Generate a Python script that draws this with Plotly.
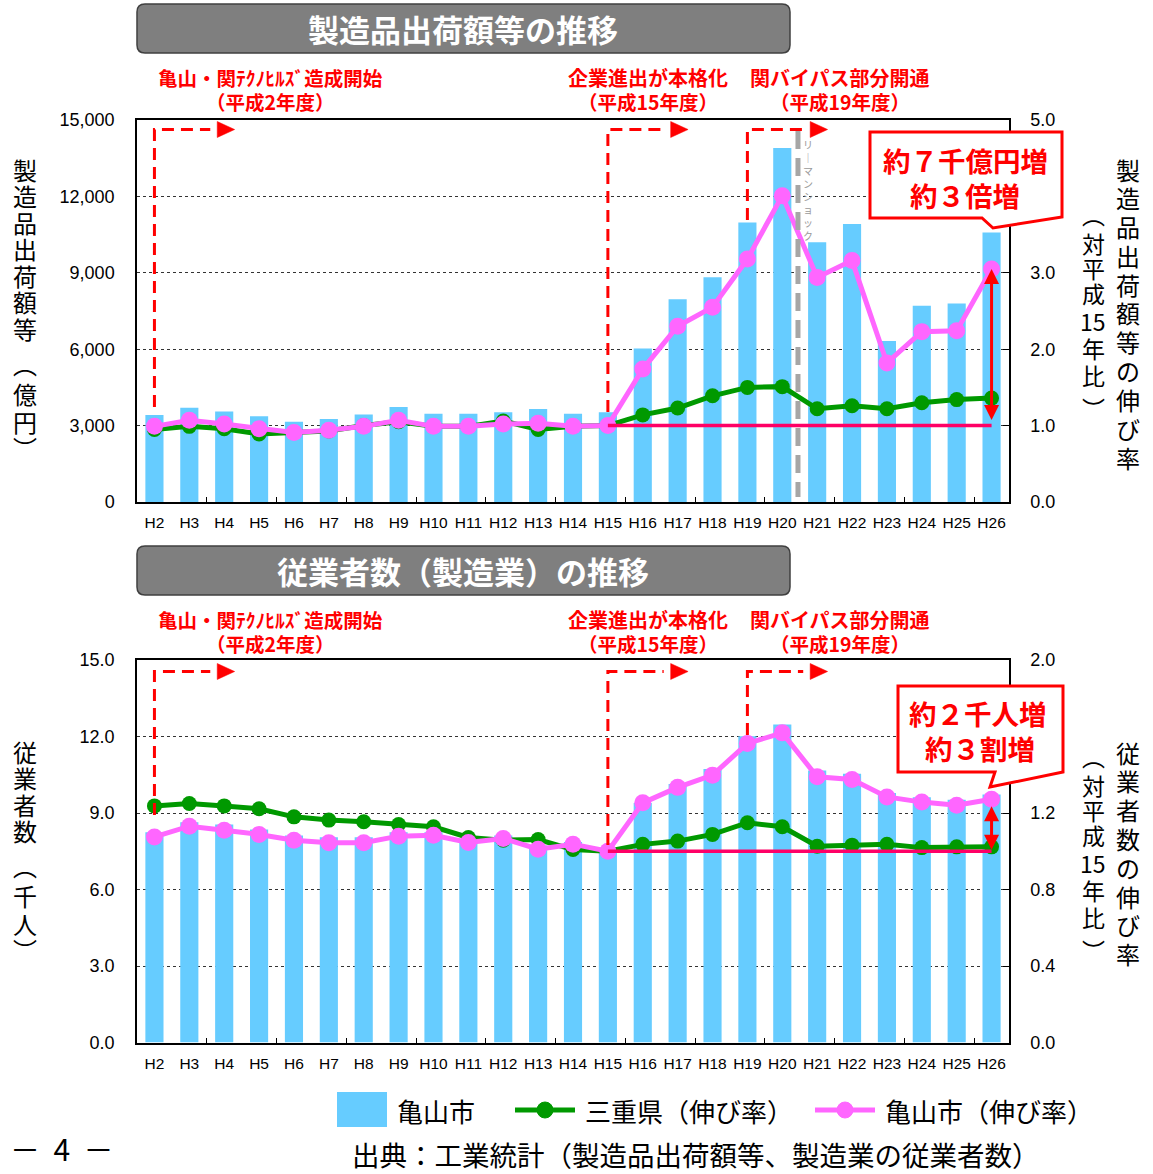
import plotly.graph_objects as go

W, H = 1153, 1174
JP = "Noto Sans CJK JP"
NUM = "Liberation Sans"

# ---------------- data ----------------
years = ["H2", "H3", "H4", "H5", "H6", "H7", "H8", "H9", "H10", "H11", "H12", "H13", "H14",
         "H15", "H16", "H17", "H18", "H19", "H20", "H21", "H22", "H23", "H24", "H25", "H26"]

# 製造品出荷額等（億円）亀山市
ship_kameyama = [3420, 3700, 3550, 3370, 3150, 3260, 3440, 3730, 3470, 3470, 3520, 3650, 3470,
                 3520, 6030, 7960, 8830, 10980, 13900, 10200, 10920, 6320, 7710, 7790, 10580]
# 伸び率（対平成15年比）
ship_mie_ratio = [0.95, 0.99, 0.96, 0.89, 0.91, 0.93, 1.00, 1.05, 0.99, 0.99, 1.06, 0.95, 0.99,
                  1.00, 1.14, 1.23, 1.39, 1.50, 1.51, 1.22, 1.26, 1.22, 1.30, 1.34, 1.36]
ship_kameyama_ratio = [0.99, 1.07, 1.02, 0.96, 0.91, 0.94, 0.99, 1.07, 0.99, 0.99, 1.02, 1.03, 0.99,
                       1.00, 1.74, 2.30, 2.55, 3.18, 4.01, 2.94, 3.16, 1.82, 2.23, 2.24, 3.05]

# 従業者数（千人）亀山市
emp_kameyama = [8.25, 8.64, 8.55, 8.35, 8.12, 8.05, 8.05, 8.25, 8.25, 7.99, 8.12, 7.73, 7.86,
                7.60, 9.39, 10.14, 10.73, 12.01, 12.47, 10.67, 10.54, 9.78, 9.62, 9.52, 9.73]
emp_mie_ratio = [1.237, 1.250, 1.237, 1.222, 1.180, 1.163, 1.154, 1.140, 1.128, 1.072, 1.058, 1.061, 1.009,
                 1.000, 1.036, 1.053, 1.088, 1.149, 1.128, 1.026, 1.032, 1.036, 1.019, 1.023, 1.023]
emp_kameyama_ratio = [1.075, 1.131, 1.110, 1.088, 1.058, 1.044, 1.044, 1.079, 1.084, 1.046, 1.067, 1.011, 1.037,
                      1.000, 1.253, 1.334, 1.398, 1.564, 1.619, 1.389, 1.375, 1.284, 1.257, 1.241, 1.272]

ship_ticks = [0, 3000, 6000, 9000, 12000, 15000]
ship_ratio_ticks = [0, 1, 2, 3, 5]
emp_ticks = [0, 3, 6, 9, 12, 15]
emp_ratio_ticks = [0, 0.4, 0.8, 1.2, 2.0]

idx = list(range(len(years)))
BASE = years.index("H15")
LAST = len(years) - 1

BLUE = "#66CCFF"
GREEN = "#009900"
PINK = "#FF66FF"
RED = "#FF0000"


def px(x):
    return x / W


def py(y):
    return 1 - y / H


fig = go.Figure()

# ---------------- traces ----------------
fig.add_trace(go.Bar(x=idx, y=ship_kameyama, width=0.52, marker=dict(color=BLUE, line=dict(width=0)),
                     xaxis="x", yaxis="y", showlegend=False, name="亀山市"))
fig.add_trace(go.Scatter(x=idx, y=ship_mie_ratio, mode="lines+markers", xaxis="x", yaxis="y2",
                         line=dict(color=GREEN, width=5), marker=dict(size=15, color=GREEN),
                         showlegend=False, name="三重県（伸び率）"))
fig.add_trace(go.Scatter(x=idx, y=ship_kameyama_ratio, mode="lines+markers", xaxis="x", yaxis="y2",
                         line=dict(color=PINK, width=5), marker=dict(size=17, color=PINK),
                         showlegend=False, name="亀山市（伸び率）"))

fig.add_trace(go.Bar(x=idx, y=emp_kameyama, width=0.52, marker=dict(color=BLUE, line=dict(width=0)),
                     xaxis="x2", yaxis="y3", showlegend=False, name="亀山市"))
fig.add_trace(go.Scatter(x=idx, y=emp_mie_ratio, mode="lines+markers", xaxis="x2", yaxis="y4",
                         line=dict(color=GREEN, width=5), marker=dict(size=15, color=GREEN),
                         showlegend=False, name="三重県（伸び率）"))
fig.add_trace(go.Scatter(x=idx, y=emp_kameyama_ratio, mode="lines+markers", xaxis="x2", yaxis="y4",
                         line=dict(color=PINK, width=5), marker=dict(size=17, color=PINK),
                         showlegend=False, name="亀山市（伸び率）"))

# ---------------- axes ----------------
XDOM = [px(137), px(1009)]
TOPDOM = [py(502), py(120)]
BOTDOM = [py(1042.5), py(660)]


def xaxis(anchor):
    return dict(domain=XDOM, anchor=anchor, range=[-0.5, len(years) - 0.5], automargin=False,
                tickmode="array", tickvals=idx, ticktext=years,
                showline=True, linecolor="black", linewidth=1.5, mirror=True,
                ticks="", showgrid=False, zeroline=False, ticklabelstandoff=6,
                tickfont=dict(family=NUM, size=15.5, color="black"),
                minor=dict(tickmode="array", tickvals=[i + 1.5 for i in range(0, len(years) - 2, 2)],
                           ticks="inside", ticklen=5, tickcolor="black", tickwidth=1, showgrid=False))


def yleft(dom, anchor, rng, tv, fmt):
    return dict(domain=dom, anchor=anchor, range=rng, automargin=False,
                tickmode="array", tickvals=tv, tickformat=fmt,
                showgrid=True, gridcolor="#333333", griddash="dot", gridwidth=1,
                showline=True, linecolor="black", linewidth=1.5, zeroline=False, ticks="",
                ticklabelstandoff=17, tickfont=dict(family=NUM, size=18, color="black"))


def yright(over, anchor, rng, tv):
    return dict(overlaying=over, side="right", anchor=anchor, range=rng, automargin=False,
                tickmode="array", tickvals=tv, tickformat=".1f", showgrid=False,
                showline=True, linecolor="black", linewidth=1.5, zeroline=False,
                ticks="inside", ticklen=6, tickcolor="black", ticklabelstandoff=16,
                tickfont=dict(family=NUM, size=18, color="black"))


fig.update_layout(
    xaxis=xaxis("y"),
    yaxis=yleft(TOPDOM, "x", [0, 15000], ship_ticks, ","),
    yaxis2=yright("y", "x", [0, 5], ship_ratio_ticks),
    xaxis2=xaxis("y3"),
    yaxis3=yleft(BOTDOM, "x2", [0, 15], emp_ticks, ".1f"),
    yaxis4=yright("y3", "x2", [0, 2], emp_ratio_ticks),
)

shapes = []
annotations = []


def ann(text, x, y, size, color="black", bold=False, family=JP, xanchor="center", yanchor="middle"):
    annotations.append(dict(text=("<b>%s</b>" % text) if bold else text, x=px(x), y=py(y),
                            xref="paper", yref="paper", showarrow=False,
                            xanchor=xanchor, yanchor=yanchor, align="center",
                            font=dict(family=family, size=size, color=color)))


def rounded_box(x0, y0, x1, y1, r, fill, line):
    pts = [
        ("M", [(x0 + r, y0)]), ("L", [(x1 - r, y0)]), ("Q", [(x1, y0), (x1, y0 + r)]),
        ("L", [(x1, y1 - r)]), ("Q", [(x1, y1), (x1 - r, y1)]),
        ("L", [(x0 + r, y1)]), ("Q", [(x0, y1), (x0, y1 - r)]),
        ("L", [(x0, y0 + r)]), ("Q", [(x0, y0), (x0 + r, y0)]),
    ]
    path = ""
    for cmd, ps in pts:
        path += cmd + " " + " ".join("%.5f,%.5f" % (px(a), py(b)) for a, b in ps) + " "
    path += "Z"
    shapes.append(dict(type="path", path=path, xref="paper", yref="paper",
                       fillcolor=fill, line=dict(color=line, width=1.5), layer="above"))


def poly(points, xref="paper", yref="paper", fill=None, color=RED, width=3, dash=None, closed=True):
    pts = [(px(a) if xref == "paper" else a, py(b) if yref == "paper" else b) for a, b in points]
    path = "M " + " L ".join("%.5f,%.5f" % p for p in pts) + (" Z" if closed else "")
    d = dict(type="path", path=path, xref=xref, yref=yref, layer="above",
             line=dict(color=color, width=width))
    if dash:
        d["line"]["dash"] = dash
    if fill:
        d["fillcolor"] = fill
    shapes.append(d)


# ---------------- panel titles ----------------
rounded_box(137, 4, 790, 53, 8, "#7F7F7F", "#404040")
ann("製造品出荷額等の推移", 463, 28, 31, "white", bold=True)
rounded_box(137, 546, 790, 595, 8, "#7F7F7F", "#404040")
ann("従業者数（製造業）の推移", 463, 570, 31, "white", bold=True)

# ---------------- event labels ----------------
for off in (0, 542):
    ann("亀山・関ﾃｸﾉﾋﾙｽﾞ造成開始", 270, 77 + off, 19.5, RED, bold=True)
    ann("（平成2年度）", 270, 101 + off, 19.5, RED, bold=True)
    ann("企業進出が本格化", 648, 77 + off, 20, RED, bold=True)
    ann("（平成15年度）", 648, 101 + off, 19.5, RED, bold=True)
    ann("関バイパス部分開通", 840, 77 + off, 20, RED, bold=True)
    ann("（平成19年度）", 840, 101 + off, 19.5, RED, bold=True)


# ---------------- dashed event arrows ----------------
def event_arrow(xref, cat, y_top, y_bottom):
    i = years.index(cat)
    poly([(i, y_bottom), (i, y_top), (i + 1.6, y_top)], xref=xref, yref="paper",
         color=RED, width=3, dash="12px,7px", closed=False)
    poly([(i + 1.8, y_top - 8), (i + 1.8, y_top + 8), (i + 2.3, y_top)], xref=xref, yref="paper",
         fill=RED, color=RED, width=0.5)


event_arrow("x", "H2", 129.5, 407)
event_arrow("x", "H15", 129.5, 412)
event_arrow("x", "H19", 129.5, 220)
event_arrow("x2", "H2", 671.5, 815)
event_arrow("x2", "H15", 671.5, 845)
event_arrow("x2", "H19", 671.5, 735)

# ---------------- Lehman shock ----------------
shapes.append(dict(type="line", xref="x", yref="paper", x0=18.45, x1=18.45, y0=py(131), y1=py(497),
                   line=dict(color="#A6A6A6", width=5, dash="18px,9px"), layer="above"))
annotations.append(dict(text="<br>".join("リ｜マンショック"), x=18.45, y=py(190), xref="x", yref="paper",
                        xshift=10, showarrow=False, xanchor="center", yanchor="middle", align="center",
                        font=dict(family=JP, size=10, color="#999999")))

# ---------------- base (=1.0) lines ----------------
shapes.append(dict(type="line", xref="x", yref="y2", x0=BASE, x1=LAST, y0=1.0, y1=1.0,
                   line=dict(color="#FF0066", width=3.5), layer="above"))
shapes.append(dict(type="line", xref="x2", yref="y4", x0=BASE, x1=LAST, y0=1.0, y1=1.0,
                   line=dict(color="#FF0066", width=3.5), layer="above"))

# ---------------- double arrows ----------------
annotations.append(dict(x=LAST, y=ship_kameyama_ratio[LAST], ax=LAST, ay=1.0, xref="x", yref="y2",
                        axref="x", ayref="y2", text="", showarrow=True, arrowhead=2, startarrowhead=2,
                        arrowside="end+start", arrowwidth=3, arrowsize=1, startarrowsize=1,
                        arrowcolor=RED, standoff=0, startstandoff=4))
annotations.append(dict(x=LAST, y=emp_kameyama_ratio[LAST], ax=LAST, ay=1.0, xref="x2", yref="y4",
                        axref="x2", ayref="y4", text="", showarrow=True, arrowhead=2, startarrowhead=2,
                        arrowside="end+start", arrowwidth=3, arrowsize=1, startarrowsize=1,
                        arrowcolor=RED, standoff=7, startstandoff=0))

# ---------------- callouts ----------------
poly([(870, 132), (1062, 132), (1062, 217), (993, 228), (982, 218), (870, 218)],
     fill="white", color=RED, width=3)
ann("約７千億円増", 965, 160, 27.5, RED, bold=True)
ann("約３倍増", 965, 195, 27.5, RED, bold=True)
poly([(898, 686), (1063, 686), (1063, 772), (990, 787), (995, 772), (898, 772)],
     fill="white", color=RED, width=3)
ann("約２千人増", 978, 713, 27.5, RED, bold=True)
ann("約３割増", 980, 748, 27.5, RED, bold=True)


# ---------------- vertical axis titles (one character per line) ----------------
def vchars(chars, x, ys, size):
    for ch, y in zip(chars, ys):
        annotations.append(dict(text=ch, x=px(x), y=py(y), xref="paper", yref="paper",
                                showarrow=False, xanchor="center", yanchor="middle",
                                font=dict(family=JP, size=size, color="black")))


def column(n, y0, pitch):
    return [y0 + pitch * k for k in range(n)]


paren_off = [35, 65, 93, 119]

# left titles
main = column(7, 169, 26.5)
vchars(list("製造品出荷額等") + ["︵", "億", "円", "︶"], 25, main + [main[-1] + o for o in paren_off], 24)
main = column(4, 751, 26.5)
vchars(list("従業者数") + ["︵", "千", "人", "︶"], 25, main + [main[-1] + o for o in paren_off], 24)

# right titles
vchars(list("製造品出荷額等の伸び率"), 1128, column(11, 169, 28.8), 24)
vchars(list("従業者数の伸び率"), 1128, column(8, 752, 28.8), 24)
paren_cols = ["︵", "対", "平", "成", "15", "年", "比", "︶"]
col2_top = [214, 243, 268, 293, 321, 348, 375, 408]
vchars(paren_cols, 1093, col2_top, 23)
vchars(paren_cols, 1093, [y + 542 for y in col2_top], 23)

# ---------------- legend ----------------
shapes.append(dict(type="rect", xref="paper", yref="paper", x0=px(337), x1=px(387), y0=py(1127), y1=py(1092),
                   fillcolor=BLUE, line=dict(width=0), layer="above"))
ann("亀山市", 395, 1110, 26, xanchor="left")
for (x0, col, label) in ((515, GREEN, "三重県（伸び率）"), (815, PINK, "亀山市（伸び率）")):
    shapes.append(dict(type="line", xref="paper", yref="paper", x0=px(x0), x1=px(x0 + 60),
                       y0=py(1110), y1=py(1110), line=dict(color=col, width=5), layer="above"))
    shapes.append(dict(type="circle", xref="paper", yref="paper", x0=px(x0 + 22), x1=px(x0 + 38),
                       y0=py(1118), y1=py(1102), fillcolor=col, line=dict(color=col, width=1), layer="above"))
    ann(label, x0 + 68, 1110, 26, xanchor="left")

ann("出典：工業統計（製造品出荷額等、製造業の従業者数）", 696, 1154, 27.5)
ann("－  4  －", 62, 1148, 30, family=JP)

fig.update_layout(
    width=W, height=H, margin=dict(l=0, r=0, t=0, b=0, pad=0, autoexpand=False),
    paper_bgcolor="white", plot_bgcolor="white",
    shapes=shapes, annotations=annotations, showlegend=False,
    barmode="overlay",
)

fig.write_html("out.html")
